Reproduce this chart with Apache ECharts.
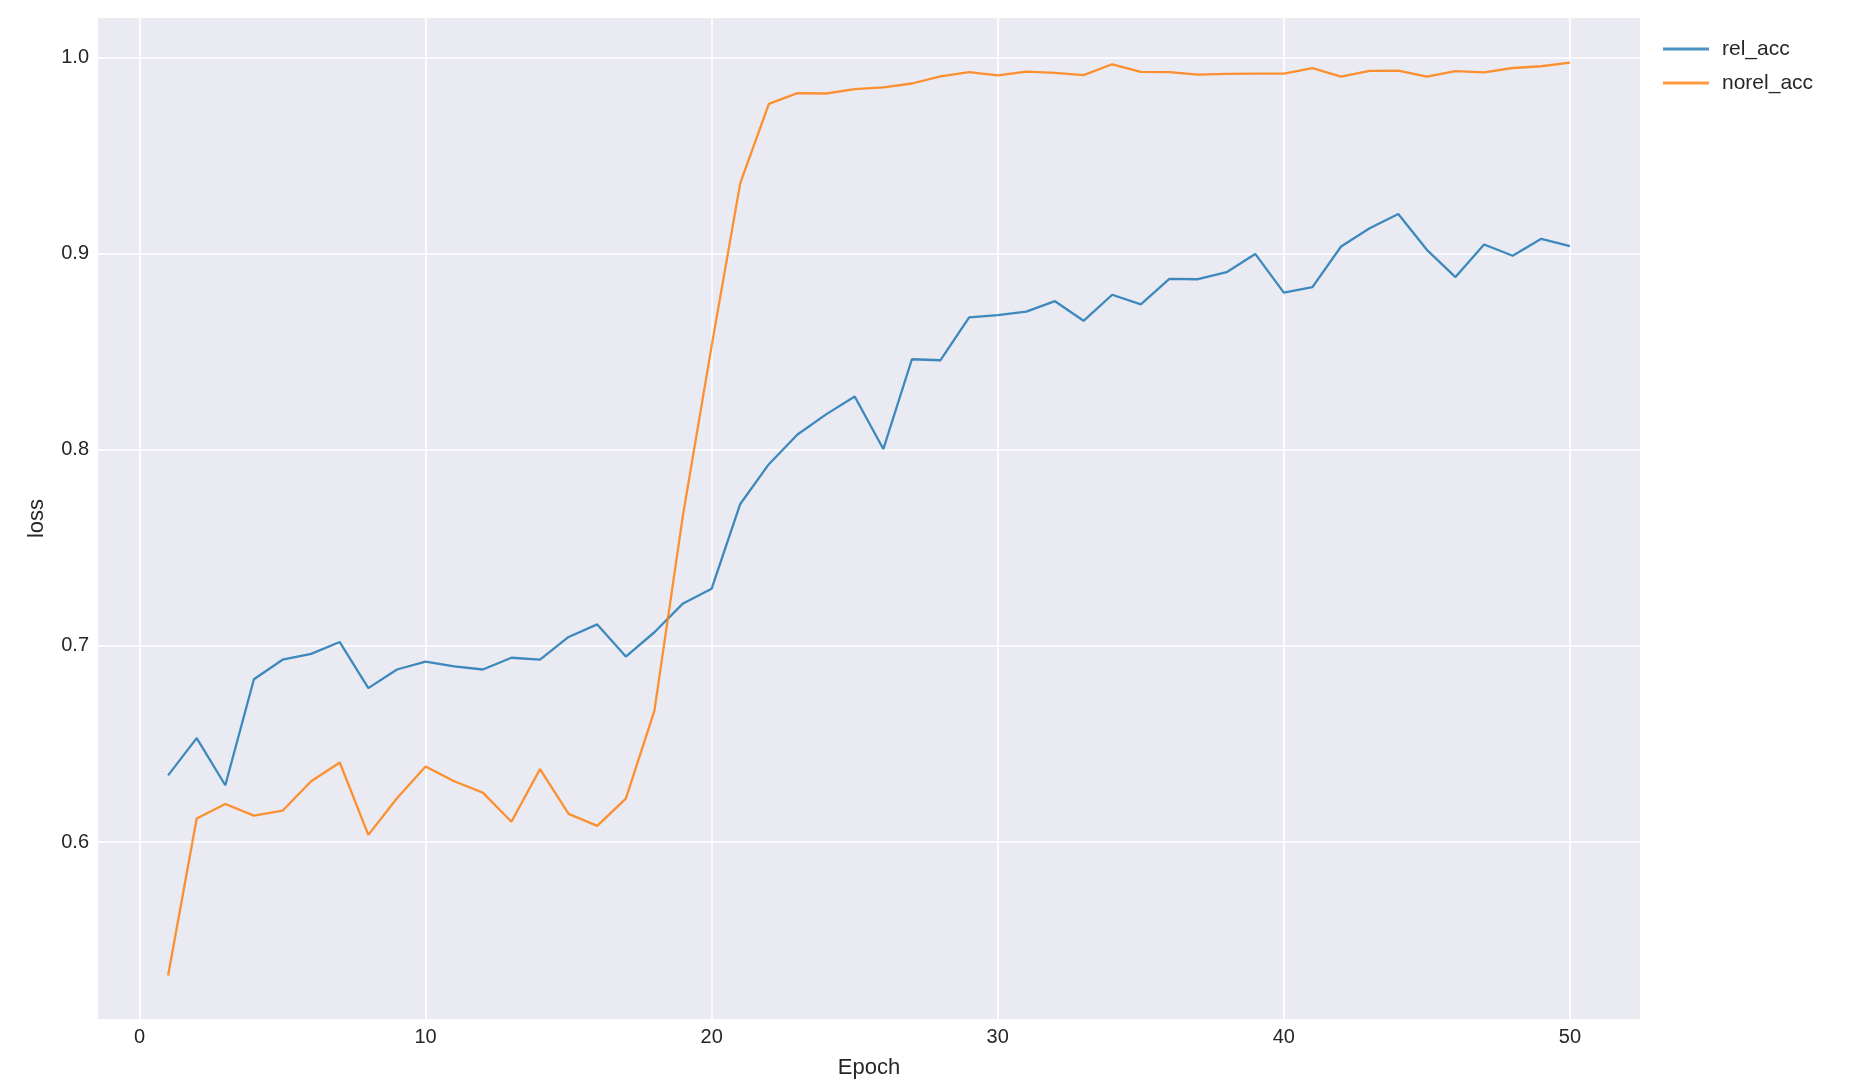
<!DOCTYPE html>
<html>
<head>
<meta charset="utf-8">
<script src="https://cdn.jsdelivr.net/npm/echarts@6/dist/echarts.min.js"></script>
<style>
html,body{margin:0;padding:0;background:#fff;}
#chart{width:1866px;height:1088px;}
</style>
</head>
<body>
<div id="chart"></div>
<script>
const epochs = [1,2,3,4,5,6,7,8,9,10,11,12,13,14,15,16,17,18,19,20,21,22,23,24,25,26,27,28,29,30,31,32,33,34,35,36,37,38,39,40,41,42,43,44,45,46,47,48,49,50];
const relAcc = [0.634,0.653,0.629,0.683,0.693,0.696,0.702,0.6785,0.688,0.692,
  0.6896,0.688,0.694,0.693,0.7046,0.711,0.6946,0.707,0.7217,0.7292,
  0.7724,0.7927,0.8078,0.8181,0.8272,0.8004,0.8462,0.8457,0.8675,0.8687,
  0.8705,0.8758,0.8658,0.8791,0.8742,0.8872,0.8870,0.8906,0.8999,0.8802,
  0.883,0.9037,0.913,0.9203,0.902,0.8881,0.9047,0.899,0.9076,0.9039];
const norelAcc = [0.532,0.612,0.6194,0.6135,0.616,0.631,0.6406,0.6037,0.6224,0.6385,
  0.631,0.6252,0.6104,0.6372,0.6144,0.6083,0.6222,0.667,0.767,0.853,
  0.936,0.9764,0.9819,0.9817,0.9839,0.9848,0.9868,0.9904,0.9926,0.9909,
  0.9929,0.9922,0.9911,0.9966,0.9927,0.9926,0.9913,0.9917,0.9918,0.9918,
  0.9946,0.9903,0.9932,0.9934,0.9903,0.9931,0.9925,0.9947,0.9956,0.9975];
const xTicks = [0,10,20,30,40,50];
const yTicks = [0.6,0.7,0.8,0.9,1.0];
const seriesNames = ['rel_acc','norel_acc'];

const textColor = '#262626';
const font = 'Liberation Sans, Arial, sans-serif';
const chart = echarts.init(document.getElementById('chart'), null, {renderer:'canvas'});
const pairs = (ys) => epochs.map((e,i)=>[e, ys[i]]);

chart.setOption({
  animation:false,
  backgroundColor:'#ffffff',
  textStyle:{fontFamily:font},
  grid:{left:98, top:18, width:1542, height:1001, show:true, backgroundColor:'#EAEAF2', borderWidth:0},
  legend:{
    orient:'vertical', left:1658, top:32, itemWidth:46, itemHeight:3, itemGap:10,
    icon:'rect',
    textStyle:{fontSize:21, color:textColor, fontFamily:font, lineHeight:24, padding:[0,0,0,8]},
    data:[
      {name:seriesNames[0], itemStyle:{color:'#1f77b4', opacity:0.8}},
      {name:seriesNames[1], itemStyle:{color:'#ff7f0e', opacity:0.8}}
    ]
  },
  xAxis:{
    type:'value', min:-1.45, max:52.45,
    name:'Epoch', nameLocation:'middle', nameGap:38,
    nameTextStyle:{fontSize:22, color:textColor, fontFamily:font},
    axisLine:{show:false},
    axisTick:{show:false, customValues:xTicks},
    axisLabel:{customValues:xTicks, fontSize:20, color:textColor, margin:8, fontFamily:font},
    splitLine:{show:true, lineStyle:{color:'#ffffff', width:1.6}}
  },
  yAxis:{
    type:'value', min:0.5098, max:1.0202,
    name:'loss', nameLocation:'middle', nameGap:50, nameRotate:90,
    nameTextStyle:{fontSize:22, color:textColor, fontFamily:font},
    axisLine:{show:false},
    axisTick:{show:false, customValues:yTicks},
    axisLabel:{customValues:yTicks, fontSize:20, color:textColor, margin:9, fontFamily:font,
      formatter:(v)=>v.toFixed(1)},
    splitLine:{show:true, lineStyle:{color:'#ffffff', width:1.6}}
  },
  series:[
    {name:seriesNames[0], type:'line', data:pairs(relAcc), showSymbol:false, symbol:'none',
     color:'#1f77b4', lineStyle:{width:2.3, color:'#1f77b4', opacity:0.85}},
    {name:seriesNames[1], type:'line', data:pairs(norelAcc), showSymbol:false, symbol:'none',
     color:'#ff7f0e', lineStyle:{width:2.3, color:'#ff7f0e', opacity:0.85}}
  ]
});
</script>
</body>
</html>
